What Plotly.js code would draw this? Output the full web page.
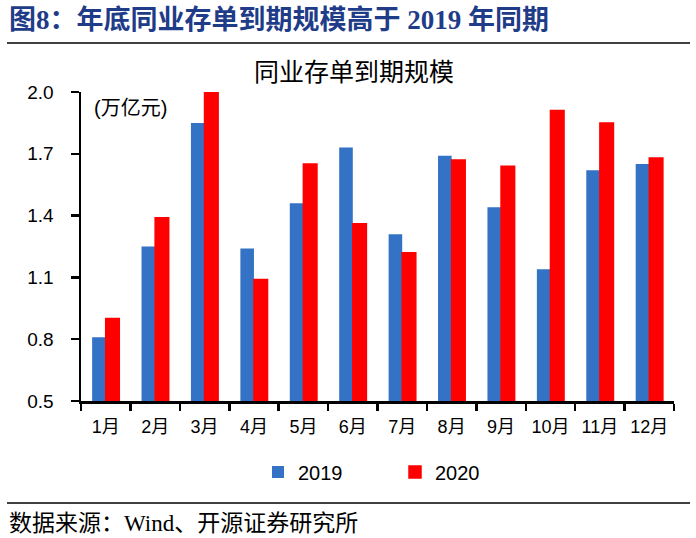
<!DOCTYPE html>
<html>
<head>
<meta charset="utf-8">
<script src="https://cdn.plot.ly/plotly-3.0.1.min.js"></script>
<style>
html,body{margin:0;padding:0;background:#fff;}
#chart{width:696px;height:538px;}
</style>
</head>
<body>
<div id="chart"></div>
<script>
var months = ["1月","2月","3月","4月","5月","6月","7月","8月","9月","10月","11月","12月"];
var values2019 = [0.81,1.25,1.85,1.24,1.46,1.73,1.31,1.69,1.44,1.14,1.62,1.65];
var values2020 = [0.90,1.39,2.00,1.09,1.65,1.36,1.22,1.67,1.64,1.91,1.85,1.68];
var yTicks = [0.5,0.8,1.1,1.4,1.7,2.0];
var yTickText = ["0.5","0.8","1.1","1.4","1.7","2.0"];

var sansFont = "Liberation Sans, Arial, Noto Sans CJK SC, sans-serif";
var serifFont = "Liberation Serif, Times New Roman, Noto Sans CJK SC, serif";

var traces = [
  {
    type: "bar", name: "2019", x: months, y: values2019,
    marker: {color: "#3372C4"},
    hoverinfo: "x+y"
  },
  {
    type: "bar", name: "2020", x: months, y: values2020,
    marker: {color: "#FF0000", line: {color: "#FF0000", width: 1.5}},
    hoverinfo: "x+y"
  }
];

var layout = {
  width: 696, height: 538,
  margin: {l: 81, r: 22, t: 92, b: 137},
  paper_bgcolor: "#fff", plot_bgcolor: "#fff",
  barmode: "group", bargap: 0.45, bargroupgap: 0,
  showlegend: true,
  title: {
    text: "同业存单到期规模",
    xref: "container", yref: "container",
    x: 354/696, xanchor: "center",
    y: 1 - 72/538, yanchor: "middle",
    font: {family: serifFont, size: 25, color: "#000"}
  },
  xaxis: {
    type: "category",
    showline: true, linecolor: "#000", linewidth: 2.5,
    ticks: "outside", tickson: "boundaries", ticklen: 7, tickwidth: 2.5, tickcolor: "#000",
    showgrid: false, zeroline: false,
    tickangle: 0,
    tickfont: {family: sansFont, size: 18, color: "#000"},
    ticklabelstandoff: 8
  },
  yaxis: {
    range: [0.5, 2.0],
    tickvals: yTicks, ticktext: yTickText,
    showline: true, linecolor: "#000", linewidth: 2.5,
    ticks: "outside", ticklen: 8, tickwidth: 2.5, tickcolor: "#000",
    showgrid: false, zeroline: false,
    tickfont: {family: sansFont, size: 19, color: "#000"},
    ticklabelstandoff: 13
  },
  legend: {
    orientation: "h",
    x: (258-81)/593, xanchor: "left",
    y: (401-472)/309, yanchor: "middle",
    font: {family: sansFont, size: 20, color: "#000"},
    entrywidth: 92,
    bgcolor: "rgba(0,0,0,0)"
  },
  annotations: [
    {
      text: "<b>图8：年底同业存单到期规模高于 2019 年同期</b>",
      xref: "paper", yref: "paper",
      x: (7-81)/593, xanchor: "left",
      y: (401-20)/309, yanchor: "middle",
      showarrow: false,
      font: {family: serifFont, size: 27, color: "#1f3c88"}
    },
    {
      text: "(万亿元)",
      xref: "paper", yref: "paper",
      x: (92-81)/593, xanchor: "left",
      y: (401-108)/309, yanchor: "middle",
      showarrow: false,
      font: {family: sansFont, size: 20, color: "#000"}
    },
    {
      text: "数据来源：Wind、开源证券研究所",
      xref: "paper", yref: "paper",
      x: (7-81)/593, xanchor: "left",
      y: (401-523)/309, yanchor: "middle",
      showarrow: false,
      font: {family: serifFont, size: 23, color: "#000"}
    }
  ],
  shapes: [
    {type: "line", xref: "paper", yref: "paper",
     x0: (7-81)/593, x1: (690-81)/593, y0: (401-43)/309, y1: (401-43)/309,
     line: {color: "#000", width: 1.5}},
    {type: "line", xref: "paper", yref: "paper",
     x0: (7-81)/593, x1: (690-81)/593, y0: (401-503)/309, y1: (401-503)/309,
     line: {color: "#000", width: 1.5}}
  ]
};

Plotly.newPlot("chart", traces, layout, {displayModeBar: false, staticPlot: true});
</script>
</body>
</html>
